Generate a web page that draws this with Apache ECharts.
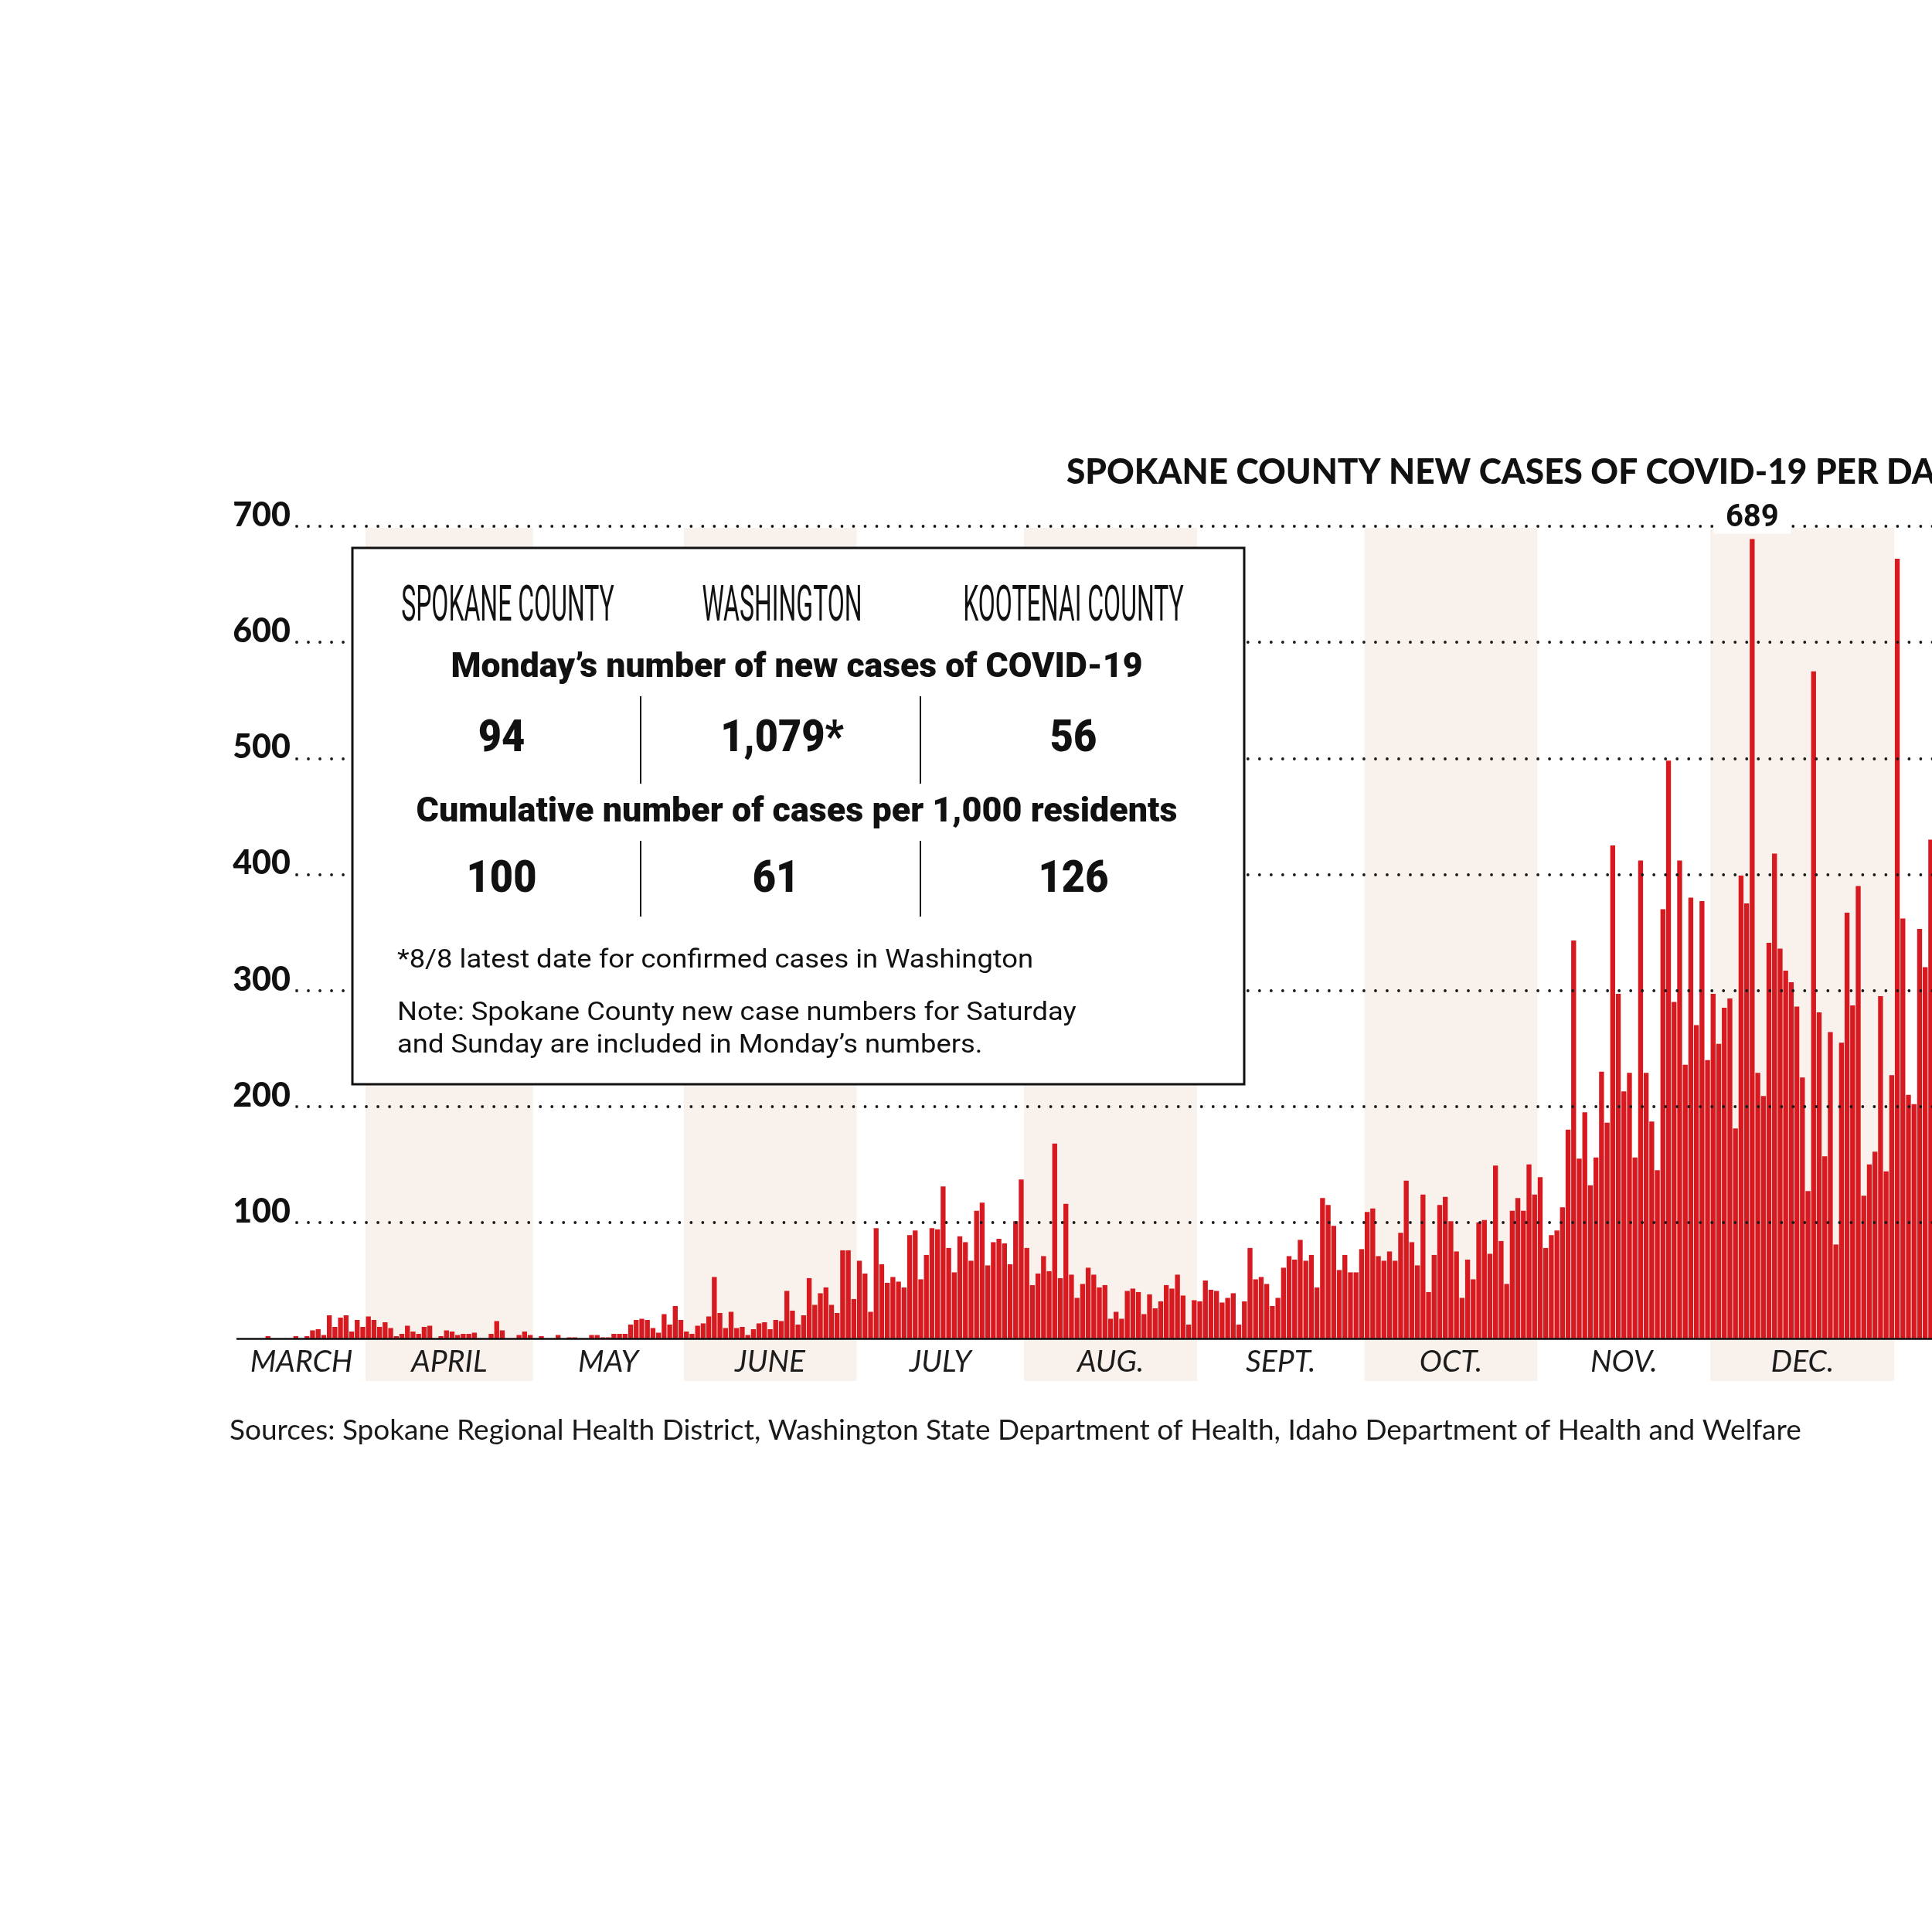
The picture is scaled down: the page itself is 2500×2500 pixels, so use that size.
<!DOCTYPE html>
<html>
<head>
<meta charset="utf-8">
<title>Spokane County new cases of COVID-19 per day</title>
<script src="https://cdn.jsdelivr.net/npm/echarts@6/dist/echarts.min.js"></script>
<style>
  html, body { margin: 0; padding: 0; background: #fff; overflow: hidden; }
  #chart { width: 2800px; height: 2500px; }
</style>
</head>
<body>
<div id="chart"></div>
<script>
// daily new cases, one list per month band
var marchCases = [0, 0, 0, 0, 0, 2, 0, 0, 0, 0, 2, 0, 2, 7, 8, 3, 20, 10, 18, 20, 6, 16, 10];
var aprilCases = [19, 16, 10, 14, 9, 2, 4, 11, 6, 4, 10, 11, 0, 2, 7, 6, 3, 4, 4, 5, 0, 0, 4, 15, 7, 0, 0, 3, 6, 3];
var mayCases = [0, 2, 0, 0, 3, 0, 1, 1, 0, 0, 3, 3, 1, 1, 4, 4, 4, 12, 16, 17, 16, 9, 5, 21, 12, 28, 16];
var juneCases = [6, 4, 11, 13, 19, 53, 22, 9, 23, 9, 10, 3, 8, 13, 14, 8, 16, 15, 41, 24, 12, 20, 52, 29, 39, 44, 29, 22, 76, 76, 34];
var julyCases = [67, 56, 23, 95, 64, 48, 53, 49, 44, 89, 93, 51, 72, 95, 94, 131, 78, 57, 88, 83, 67, 110, 117, 63, 83, 86, 82, 64, 101, 137];
var augCases = [78, 46, 56, 71, 58, 168, 52, 116, 55, 35, 47, 61, 55, 44, 46, 17, 23, 17, 41, 43, 40, 21, 38, 26, 32, 46, 43, 55, 37, 12, 33];
var septCases = [32, 50, 42, 41, 31, 35, 39, 12, 32, 78, 51, 53, 47, 28, 35, 61, 71, 68, 85, 67, 72, 44, 121, 115, 97, 59, 72, 57, 57, 77];
var octCases = [109, 112, 71, 67, 75, 67, 91, 136, 83, 63, 124, 40, 72, 115, 122, 101, 75, 35, 68, 51, 100, 102, 73, 149, 84, 47, 110, 121, 110, 150, 124];
var novCases = [139, 78, 89, 93, 113, 180, 343, 155, 195, 132, 156, 230, 186, 425, 297, 213, 229, 156, 412, 229, 187, 145, 370, 498, 290, 412, 236, 380, 270, 377, 240];
var decCases = [297, 254, 285, 293, 181, 399, 375, 689, 229, 209, 341, 418, 336, 317, 307, 286, 225, 127, 575, 281, 157, 264, 81, 255, 367, 287, 390, 123, 150, 161, 295, 144, 227];
// January runs off the right edge of the graphic
var janCases = [672, 362, 210, 202, 353, 320, 430];

var monthNames = ['MARCH', 'APRIL', 'MAY', 'JUNE', 'JULY', 'AUG.', 'SEPT.', 'OCT.', 'NOV.', 'DEC.', 'JAN.'];
var monthCases = [marchCases, aprilCases, mayCases, juneCases, julyCases, augCases, septCases, octCases, novCases, decCases, janCases];

// box figures
var boxPlaces = ['SPOKANE COUNTY', 'WASHINGTON', 'KOOTENAI COUNTY'];
var mondayCases = ['94', '1,079*', '56'];
var casesPer1000 = ['100', '61', '126'];

var categories = [];
var values = [];
var bands = [];
var start = 0;
monthCases.forEach(function (list, m) {
	list.forEach(function (v, i) {
		categories.push(monthNames[m] + ' ' + (i + 1));
		values.push(v);
	});
	// last month is cut off, so its label centre sits past the edge
	var labelAt = m === monthCases.length - 1 ? start + 15.5 : start + list.length / 2;
	bands.push([start, start + list.length, m % 2, labelAt]);
	start += list.length;
});
var dayCount = values.length;

var chart = echarts.init(document.getElementById('chart'));

var BAR_LEFT = 307, BAR_WIDTH = 2195;
var COLX = [657, 1012, 1389];

function boxText(text, x, y, font, sx, align) {
	return {
		type: 'text', x: x, y: y, scaleX: sx || 1, z: 11,
		style: {
			text: text, font: font, fill: '#111',
			textAlign: align || 'center', align: align || 'center',
			textVerticalAlign: 'middle', verticalAlign: 'middle'
		}
	};
}

var graphics = [
	// title, cut off by the right edge like the original
	{
		type: 'text', x: 1380, y: 611, z: 11, scaleX: 0.96,
		style: {
			text: 'SPOKANE COUNTY NEW CASES OF COVID-19 PER DAY',
			font: '900 46px Lato', fill: '#111',
			textAlign: 'left', align: 'left', textVerticalAlign: 'middle', verticalAlign: 'middle'
		}
	},
	{
		type: 'text', x: 297, y: 1851, z: 11,
		style: {
			text: 'Sources: Spokane Regional Health District, Washington State Department of Health, Idaho Department of Health and Welfare',
			font: '400 37px Lato', fill: '#1a1a1a',
			textAlign: 'left', align: 'left', textVerticalAlign: 'middle', verticalAlign: 'middle'
		}
	},
	{
		type: 'rect', z: 10,
		shape: { x: 456, y: 709, width: 1154, height: 694 },
		style: { fill: '#fff', stroke: '#111', lineWidth: 3 }
	},
	boxText('Monday\u2019s number of new cases of COVID-19', 1031, 865, '900 45px Roboto', 0.99),
	boxText('Cumulative number of cases per 1,000 residents', 1031, 1052, '900 44px Roboto', 1.02),
	boxText('*8/8 latest date for confirmed cases in Washington', 514, 1243, '400 34px Roboto', 1.07, 'left'),
	boxText('Note: Spokane County new case numbers for Saturday', 514, 1311, '400 34px Roboto', 1.07, 'left'),
	boxText('and Sunday are included in Monday\u2019s numbers.', 514, 1353, '400 34px Roboto', 1.07, 'left')
];
boxPlaces.forEach(function (t, i) {
	graphics.push(boxText(t, COLX[i], 787, '400 64px Roboto', 0.5));
});
mondayCases.forEach(function (t, i) {
	graphics.push(boxText(t, COLX[i] - 8 * (i === 0), 957, '900 58px Roboto', 0.9));
});
casesPer1000.forEach(function (t, i) {
	graphics.push(boxText(t, COLX[i] - 8 * (i !== 2), 1139, '900 58px Roboto', 0.9));
});
[829, 1191].forEach(function (x) {
	graphics.push({ type: 'line', z: 11, shape: { x1: x, y1: 901, x2: x, y2: 1014 }, style: { stroke: '#111', lineWidth: 2 } });
	graphics.push({ type: 'line', z: 11, shape: { x1: x, y1: 1088, x2: x, y2: 1186 }, style: { stroke: '#111', lineWidth: 2 } });
});

option = {
	animation: false,
	backgroundColor: '#fff',
	grid: [
		{ left: BAR_LEFT, top: 681, width: BAR_WIDTH, height: 1051 },   // bars
		{ left: 384, top: 681, right: 0, height: 901 },                 // dotted lines + labels
		{ left: BAR_LEFT, top: 683, width: BAR_WIDTH, height: 1104 }    // month bands
	],
	xAxis: [
		{
			gridIndex: 0, type: 'category', data: categories, z: 4,
			axisLine: { lineStyle: { color: '#111', width: 2.5 } },
			axisTick: { show: false }, axisLabel: { show: false }, splitLine: { show: false }
		},
		{ gridIndex: 1, type: 'value', show: false, min: 0, max: 1 },
		{ gridIndex: 2, type: 'value', show: false, min: 0, max: dayCount }
	],
	yAxis: [
		{ gridIndex: 0, type: 'value', min: 0, max: 700, show: false },
		{
			gridIndex: 1, type: 'value', min: 100, max: 700, interval: 100, z: 3,
			axisLine: { show: false }, axisTick: { show: false },
			axisLabel: {
				color: '#111', fontFamily: 'Lato', fontWeight: 900, fontSize: 43,
				margin: 8, verticalAlign: 'bottom', lineHeight: 28
			},
			splitLine: {
				lineStyle: { color: '#1a1a1a', width: 3.8, type: [0.01, 15], cap: 'round' }
			}
		},
		{ gridIndex: 2, type: 'value', min: 0, max: 1, show: false }
	],
	series: [
		{
			type: 'custom', xAxisIndex: 2, yAxisIndex: 2, z: 0, silent: true,
			data: bands,
			renderItem: function (params, api) {
				var top = api.coord([api.value(0), 1]);
				var bottom = api.coord([api.value(1), 0]);
				var mid = api.coord([api.value(3), 0]);
				var children = [];
				if (api.value(2) === 1) {
					children.push({
						type: 'rect',
						shape: { x: top[0], y: top[1], width: bottom[0] - top[0], height: bottom[1] - top[1] },
						style: { fill: '#f9f1eb' }
					});
				}
				children.push({
					type: 'text',
					style: {
						text: monthNames[params.dataIndex], x: mid[0], y: bottom[1] - 5,
						font: 'italic 400 39px Lato', fill: '#1c1c1c',
						textAlign: 'center', align: 'center', textVerticalAlign: 'bottom', verticalAlign: 'bottom'
					}
				});
				return { type: 'group', children: children };
			}
		},
		{
			type: 'bar', xAxisIndex: 0, yAxisIndex: 0, z: 2, silent: true,
			data: values,
			barCategoryGap: '12%',
			itemStyle: { color: '#d71920' },
			markPoint: {
				z: 5,
				symbol: 'rect', symbolSize: [100, 40], symbolOffset: [0, -27],
				itemStyle: { color: '#fff' },
				label: {
					show: true, formatter: '{c}', color: '#111',
					fontFamily: 'Roboto', fontWeight: 'bold', fontSize: 40
				},
				data: [{ type: 'max' }]
			}
		}
	],
	graphic: graphics
};

chart.setOption(option);
</script>
</body>
</html>
